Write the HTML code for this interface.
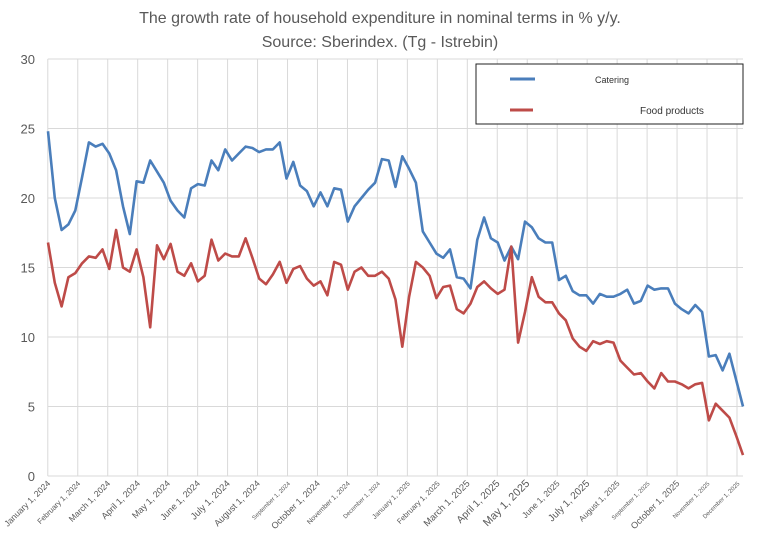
<!DOCTYPE html>
<html><head><meta charset="utf-8"><style>
body{margin:0;background:#fff;font-family:"Liberation Sans",sans-serif}
svg{display:block}
</style></head><body>
<svg id="c" width="758" height="551">
<text x="380" y="23" text-anchor="middle" font-size="16" fill="#595959">The growth rate of household expenditure in nominal terms in % y/y.</text>
<text x="380" y="47" text-anchor="middle" font-size="16" fill="#595959">Source: Sberindex. (Tg - Istrebin)</text>
<g id="grid"></g><g id="ylab"></g><g id="xlab"></g><g id="series"></g>
<g>
<rect x="476" y="64" width="267" height="60" fill="#fff" stroke="#222" stroke-width="1"/>
<line x1="510" y1="79" x2="535" y2="79" stroke="#4a7ebb" stroke-width="3"/>
<text x="595" y="83" font-size="9" fill="#333">Catering</text>
<line x1="510" y1="110" x2="533" y2="110" stroke="#be4b48" stroke-width="3"/>
<text x="640" y="114" font-size="10" fill="#333">Food products</text>
</g>
</svg>
<script>
const yTicks=[0,5,10,15,20,25,30];
const monthLabels=["January 1, 2024","February 1, 2024","March 1, 2024","April 1, 2024","May 1, 2024","June 1, 2024","July 1, 2024","August 1, 2024","September 1, 2024","October 1, 2024","November 1, 2024","December 1, 2024","January 1, 2025","February 1, 2025","March 1, 2025","April 1, 2025","May 1, 2025","June 1, 2025","July 1, 2025","August 1, 2025","September 1, 2025","October 1, 2025","November 1, 2025","December 1, 2025"];
const monthLabelSizes=[8.5,7.5,8.5,9,9,9,9.5,9,6,9,7,6,7,7.5,9.5,10,11,8.5,10,8,6,9,6,6];
const catering=[24.8,20.0,17.7,18.1,19.1,21.5,24.0,23.7,23.9,23.2,22.0,19.4,17.4,21.2,21.1,22.7,21.9,21.1,19.8,19.1,18.6,20.7,21.0,20.9,22.7,22.0,23.5,22.7,23.2,23.7,23.6,23.3,23.5,23.5,24.0,
21.4,22.6,20.9,20.5,19.4,20.4,19.4,20.7,20.6,18.3,19.4,20.0,20.6,21.1,22.8,22.7,20.8,23.0,22.1,21.1,17.6,16.8,16.0,15.7,16.3,14.3,14.2,13.5,17.0,18.6,17.1,16.8,15.5,16.5,
15.6,18.3,17.9,17.1,16.8,16.8,14.1,14.4,13.3,13.0,13.0,12.4,13.1,12.9,12.9,13.1,13.4,12.4,12.6,13.7,13.4,13.5,13.5,12.4,12.0,11.7,12.3,11.8,8.6,8.7,7.6,8.8,6.9,5.0];
const food=[16.8,13.9,12.2,14.3,14.6,15.3,15.8,15.7,16.3,14.9,17.7,15.0,14.7,16.3,14.3,10.7,16.6,15.6,16.7,14.7,14.4,15.3,14.0,14.4,17.0,15.5,16.0,15.8,15.8,17.1,15.7,14.2,13.8,14.5,15.4,
13.9,14.9,15.1,14.2,13.7,14.0,13.0,15.4,15.2,13.4,14.7,15.0,14.4,14.4,14.7,14.2,12.7,9.3,12.9,15.4,15.0,14.4,12.8,13.6,13.7,12.0,11.7,12.4,13.6,14.0,13.5,13.1,13.4,16.5,
9.6,11.8,14.3,12.9,12.5,12.5,11.7,11.2,9.9,9.3,9.0,9.7,9.5,9.7,9.6,8.3,7.8,7.3,7.4,6.8,6.3,7.4,6.8,6.8,6.6,6.3,6.6,6.7,4.0,5.2,4.7,4.2,2.9,1.5];
const NS="http://www.w3.org/2000/svg";
const X0=47.8,X1=743,Y0=476,Y1=59;
const y=v=>Y0-(v/30)*(Y0-Y1);
const xi=i=>48+i*(743-48)/(catering.length-1);
const xm=m=>X0+m*(737-X0)/(monthLabels.length-1);
function mk(t,a,p){const e=document.createElementNS(NS,t);for(const k in a)e.setAttribute(k,a[k]);p.appendChild(e);return e;}
const g=document.getElementById('grid'),yl=document.getElementById('ylab'),xl=document.getElementById('xlab'),s=document.getElementById('series');
yTicks.forEach(v=>{
 const l=mk('line',{x1:X0,x2:X1,y1:y(v),y2:y(v),stroke:'#d9d9d9','stroke-width':1},g);
 
 
 const t=mk('text',{x:35,y:y(v)+5,'text-anchor':'end','font-size':13,fill:'#595959'},yl);t.textContent=v;
 
 
});
monthLabels.forEach((m,i)=>{
 const x=xm(i);
 const l=mk('line',{x1:x,x2:x,y1:Y1,y2:Y0,stroke:'#d9d9d9','stroke-width':1},g);
 
 
 const t=mk('text',{x:x+3,y:484,'text-anchor':'end','font-size':monthLabelSizes[i],fill:'#595959',transform:`rotate(-45 ${x+3} 484)`},xl);t.textContent=m;
 
 
});
function line(d,c,n){
 const p=mk('polyline',{points:d.map((v,i)=>xi(i).toFixed(1)+','+y(v).toFixed(1)).join(' '),fill:'none',stroke:c,'stroke-width':2.6,'stroke-linejoin':'round'},s);
 
 
}
line(catering,'#4a7ebb','catering-line');
line(food,'#be4b48','food-products-line');
</script>
</body></html>
